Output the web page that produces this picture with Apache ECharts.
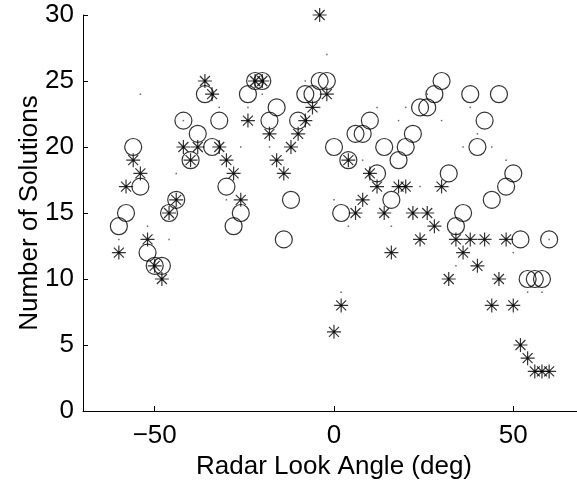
<!DOCTYPE html>
<html>
<head>
<meta charset="utf-8">
<script src="https://cdn.jsdelivr.net/npm/echarts@6/dist/echarts.min.js"></script>
<style>html,body{margin:0;padding:0;background:#fff}#c{width:577px;height:485px}</style>
</head>
<body>
<div id="c"></div>
<script>
const angles = [-60,-58,-56,-54,-52,-50,-48,-46,-44,-42,-40,-38,-36,-34,-32,-30,-28,-26,-24,-22,-20,-18,-16,-14,-12,-10,-8,-6,-4,-2,0,2,4,6,8,10,12,14,16,18,20,22,24,26,28,30,32,34,36,38,40,42,44,46,48,50,52,54,56,58,60];
const circleCounts = [14,15,20,17,12,11,11,15,16,22,19,21,24,20,22,17,14,15,24,25,25,22,23,13,16,22,24,24,25,25,20,15,19,21,21,22,18,20,16,19,20,21,23,23,24,25,18,14,15,24,20,22,16,24,17,18,13,10,10,10,13];
const starCounts = [12,17,19,18,13,11,10,15,16,20,19,20,25,24,20,19,18,16,22,25,25,21,19,18,20,21,22,23,30,24,6,8,19,15,16,18,17,15,12,17,17,15,13,15,14,17,10,13,12,13,11,13,8,10,13,8,5,4,3,3,3];
const dotAngles = [-60,-54,-52,-46,-44,-42,-32,-30,-26,-24,-20,-18,-8,-4,-2,0,2,4,8,12,16,18,20,24,26,30,34,36,38,40,44,48,50,54,58,60];
const dotCounts = [13,24,14,13,18,22,23,16,20,23,24,20,25,23,27,16,9,14,19,23,14,22,23,17,24,22,11,20,23,21,20,19,12,9,9,13];
const xTicks = [-50, 0, 50];

const pair = (xs, ys) => xs.map((x, i) => [x, ys[i]]);
const FONT = 'Liberation Sans';
const FS = 26;
const starPath = 'path://M0,-7L0,7M-7,0L7,0M-5,-5L5,5M-5,5L5,-5M-1,-1L1,-1L1,1L-1,1Z';

const chart = echarts.init(document.getElementById('c'), null, {renderer: 'canvas'});
chart.setOption({
  animation: false,
  backgroundColor: '#fff',
  grid: {left: 83, top: 15, width: 502, height: 396, containLabel: false, outerBoundsMode: 'none'},
  xAxis: {
    type: 'value', min: -70, max: 70,
    name: 'Radar Look Angle (deg)', nameLocation: 'middle', nameGap: 43, nameMoveOverlap: false,
    nameTextStyle: {fontFamily: FONT, fontSize: FS, color: '#000'},
    axisLine: {show: true, onZero: false, lineStyle: {color: '#000', width: 1}},
    axisTick: {show: true, inside: true, length: 5, customValues: xTicks, lineStyle: {color: '#000'}},
    axisLabel: {customValues: xTicks, margin: 12, fontFamily: FONT, fontSize: FS, color: '#000',
      formatter: v => String(v).replace('-', '\u2212')},
    splitLine: {show: false}
  },
  yAxis: {
    type: 'value', min: 0, max: 30, interval: 5,
    name: 'Number of Solutions', nameLocation: 'middle', nameGap: 40, nameMoveOverlap: false,
    nameTextStyle: {fontFamily: FONT, fontSize: FS, color: '#000'},
    axisLine: {show: true, onZero: false, lineStyle: {color: '#000', width: 1}},
    axisTick: {show: true, inside: true, length: 5, lineStyle: {color: '#000'}},
    axisLabel: {margin: 9, fontFamily: FONT, fontSize: FS, color: '#000'},
    splitLine: {show: false}
  },
  series: [
    {
      type: 'scatter', data: pair(angles, circleCounts), symbol: 'circle', symbolSize: 17,
      itemStyle: {color: 'rgba(0,0,0,0)', borderColor: '#000', borderWidth: 1.2}, z: 2
    },
    {
      type: 'scatter', data: pair(angles, starCounts), symbol: starPath, symbolSize: 14,
      itemStyle: {color: '#000', borderColor: '#000', borderWidth: 1.2}, z: 3
    },
    {
      type: 'scatter', data: pair(dotAngles, dotCounts), symbol: 'rect', symbolSize: 1.5,
      itemStyle: {color: '#444'}, z: 4
    }
  ]
});
</script>
</body>
</html>
